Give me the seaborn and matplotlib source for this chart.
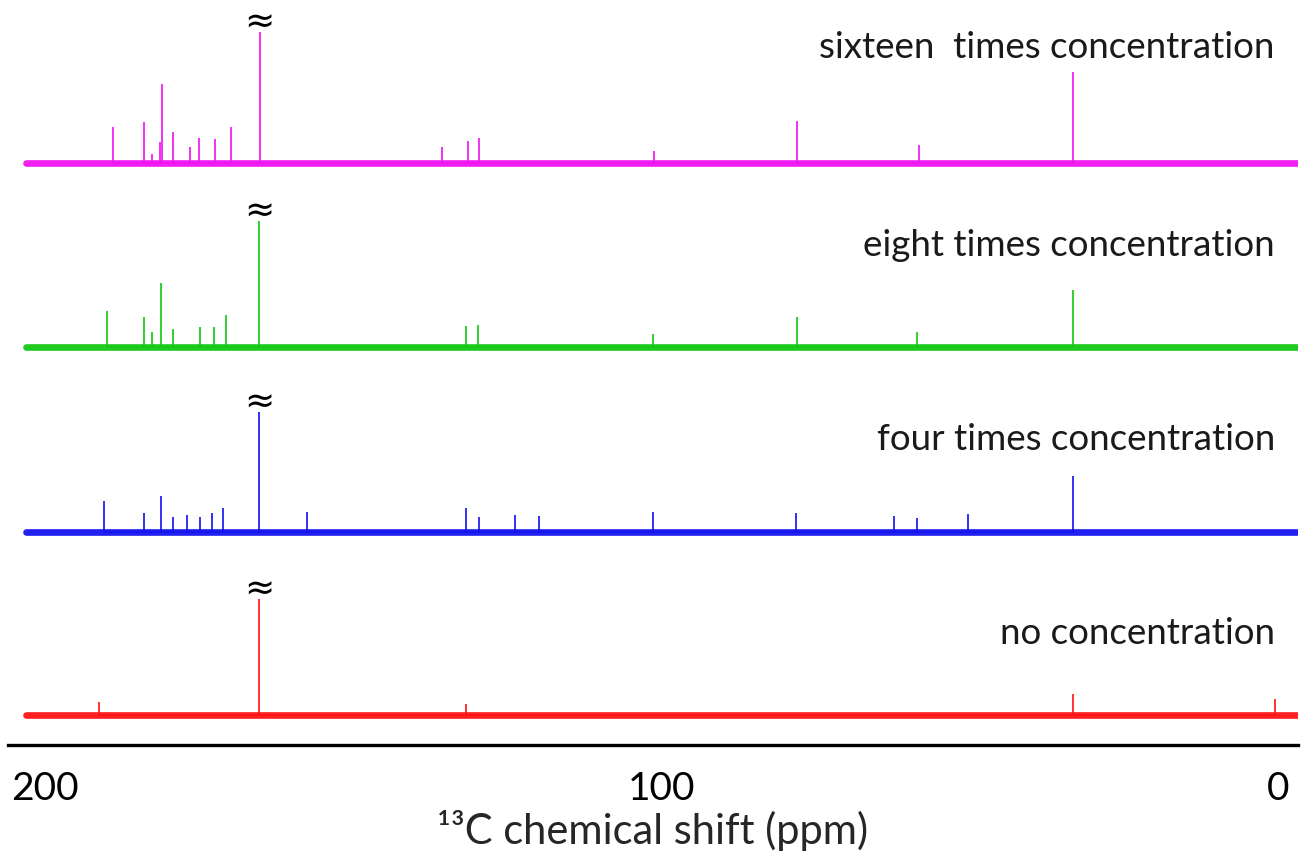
import numpy as np
import pandas as pd
import matplotlib
matplotlib.use("Agg")
import matplotlib.pyplot as plt
import seaborn as sns

# ---------------- data ----------------
series_labels = ["no concentration", "four times concentration",
                 "eight times concentration", "sixteen  times concentration"]
series_colors = ["#ff1414", "#1414f0", "#14c814", "#f014f0"]

# peak positions (ppm) and heights (arbitrary units) per spectrum
none_ppm = [191.2, 165.3, 131.7, 33.3, 0.5]
none_int = [12, 115, 10, 20, 15]

four_ppm = [190.4, 183.9, 181.2, 179.2, 177.0, 174.9, 172.9, 171.1, 165.3,
            157.5, 131.7, 129.6, 123.8, 119.9, 101.4, 78.2, 62.3, 58.6, 50.3, 33.3]
four_int = [30, 18, 35, 14, 16, 14, 18, 23, 119,
            19, 23, 14, 16, 15, 19, 18, 15, 13, 17, 55]

eight_ppm = [189.9, 183.9, 182.6, 181.2, 179.2, 174.9, 172.6, 170.6, 165.3,
             131.7, 129.8, 101.4, 78.0, 58.6, 33.3]
eight_int = [35, 29, 14, 63, 17, 19, 19, 31, 125,
             20, 21, 12, 29, 14, 56]

sixteen_ppm = [189.0, 183.9, 182.6, 181.3, 181.0, 179.2, 176.5, 175.0, 172.4,
               169.8, 165.1, 135.6, 131.4, 129.6, 101.2, 78.0, 58.2, 33.3]
sixteen_int = [35, 40, 8, 20, 78, 30, 15, 24, 23,
               35, 130, 15, 21, 24, 11, 41, 17, 90]

clipped_peak_ppm = 165.2          # peak marked with the axis-break sign
tick_values = [200, 100, 0]
tick_labels = ["200", "100", "0"]
xlabel = "¹³C chemical shift (ppm)"

# ---------------- layout ----------------
W, H, DPI = 1301, 855, 100
offsets = [30, 213, 398, 582]          # vertical stacking of the spectra
label_y = [112, 306, 500, 698]         # label positions (same units)
x_left, x_right = 206.0, -3.25

sns.set_theme(style="white")
plt.rcParams["font.family"] = ["Lato", "DejaVu Sans"]

fig = plt.figure(figsize=(W / DPI, H / DPI), dpi=DPI)
ax = fig.add_axes([8 / W, 110 / H, 1290 / W, 745 / H])

all_ppm = [none_ppm, four_ppm, eight_ppm, sixteen_ppm]
all_int = [none_int, four_int, eight_int, sixteen_int]

for k, (ppm, inten) in enumerate(zip(all_ppm, all_int)):
    base = offsets[k]
    col = series_colors[k]
    # baseline (noise band)
    bl = pd.DataFrame({"x": [x_left - 2.9, x_right], "y": [base, base]})
    sns.lineplot(data=bl, x="x", y="y", ax=ax, color=col, linewidth=4.8,
                 sort=False, estimator=None, alpha=0.95)
    # peaks as a stick path
    order = np.argsort(ppm)[::-1]
    xs, ys = [], []
    for i in order:
        xs += [ppm[i], ppm[i], ppm[i]]
        ys += [base, base + inten[i], base]
    path = pd.DataFrame({"x": xs, "y": ys})
    sns.lineplot(data=path, x="x", y="y", ax=ax, color=col, linewidth=1.4,
                 sort=False, estimator=None, alpha=0.85)
    # axis-break sign over the truncated peak
    top = base + max(inten)
    ax.annotate("≈", xy=(clipped_peak_ppm, top), xytext=(0, -5),
                textcoords="offset points", ha="center", va="bottom",
                fontsize=26, color="black", family=["DejaVu Sans"])
    # spectrum label
    ax.text(0.982, label_y[k], series_labels[k], transform=ax.get_yaxis_transform(),
            ha="right", va="center", fontsize=26.5, color="#1a1a1a")

ax.set_xlim(x_left, x_right)
ax.set_ylim(0, 745)
ax.set_xticks(tick_values)
ax.set_xticklabels(tick_labels, fontsize=28)
ax.set_yticks([])
ax.tick_params(axis="x", length=0, pad=19, colors="black")
ax.set_xlabel(xlabel, fontsize=30, labelpad=2)
ax.set_ylabel("")
for s in ["top", "left", "right"]:
    ax.spines[s].set_visible(False)
ax.spines["bottom"].set_linewidth(2.4)
ax.spines["bottom"].set_color("black")
ax.patch.set_alpha(0)

fig.savefig("out.png", dpi=DPI)
